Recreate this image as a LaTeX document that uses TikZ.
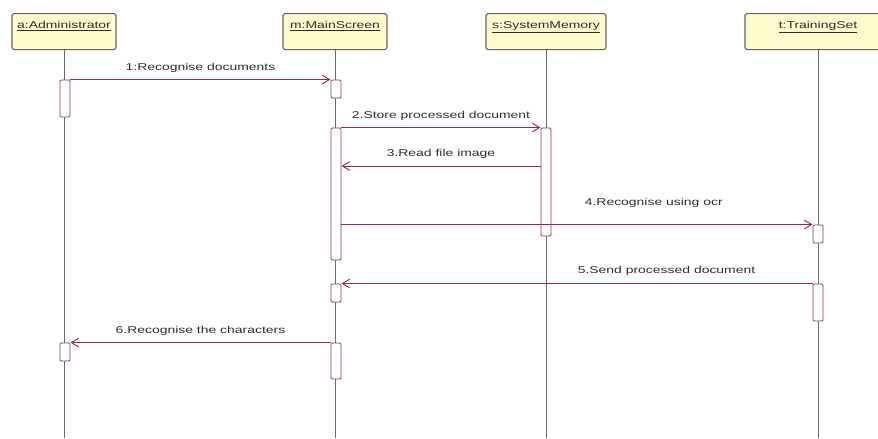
\documentclass[tikz,border=0pt]{standalone}
\usepackage{fontspec}
\usepackage{tikz}
\usetikzlibrary{arrows.meta, positioning, fit}
\newfontfamily\umlfont[FakeStretch=1.4]{Liberation Sans}
\definecolor{umlwine}{RGB}{150,40,95}
\definecolor{umlbar}{RGB}{130,60,95}
\definecolor{umlhead}{RGB}{255,251,205}
\definecolor{umledge}{RGB}{115,95,95}
\definecolor{umlgrey}{RGB}{105,105,105}
\definecolor{umltext}{RGB}{45,45,45}
\tikzset{
  headbox/.style={rectangle, draw=umledge, fill=umlhead, anchor=north,
    inner xsep=2pt, inner ysep=0.15cm, text height=0.3cm, text depth=0.48cm,
    font=\umlfont\fontsize{8.5}{10}\selectfont, text=umltext,
    rounded corners=1.5pt, line width=0.9pt},
  actbar/.style={rectangle, draw=umlbar, fill=white, inner sep=0pt,
    minimum width=0.3cm, rounded corners=1pt, line width=0.8pt},
  lifeline/.style={draw=umlgrey, line width=0.8pt},
  msg/.style={-{Straight Barb[length=2.2mm, width=2.6mm]}, color=umlwine, line width=0.8pt},
  msglbl/.style={font=\umlfont\fontsize{8.5}{10}\selectfont, text=umltext}
}

\begin{document}
\begin{tikzpicture}[x=0.03cm, y=-0.03cm]
  \clip (0,0) rectangle (878,438);

  % Object heads
  \node[headbox, minimum width=3.12cm] (adm) at (64,13) {\underline{a:Administrator}};
  \node[headbox, minimum width=3.12cm] (ms) at (335,13) {\underline{m:MainScreen}};
  \node[headbox, minimum width=3.6cm] (sm) at (546,13) {\underline{s:SystemMemory}};
  \node[headbox, minimum width=4.38cm] (ts) at (818,13) {\underline{t:TrainingSet}};

  % Lifelines
  \draw[lifeline] (adm.south) -- (adm.south |- 0,438);
  \draw[lifeline] (ms.south) -- (ms.south |- 0,438);
  \draw[lifeline] (sm.south) -- (sm.south |- 0,438);
  \draw[lifeline] (ts.south) -- (ts.south |- 0,438);

  % Activation bars
  \node[actbar, fit={(65,80) (65,117)}] (a1) {};
  \node[actbar, fit={(65,343) (65,361)}] (a2) {};
  \node[actbar, fit={(336,80) (336,98)}] (m1) {};
  \node[actbar, fit={(336,128) (336,260)}] (m2) {};
  \node[actbar, fit={(336,284) (336,302)}] (m3) {};
  \node[actbar, fit={(336,343) (336,379)}] (m4) {};
  \node[actbar, fit={(546,128) (546,236)}] (s1) {};
  \node[actbar, fit={(818,225) (818,243)}] (t1) {};
  \node[actbar, fit={(818,284) (818,321)}] (t2) {};

  % Messages
  \draw[msg] (a1.north east) -- (m1.north west)
    node[msglbl, midway, above=2pt] {1:Recognise documents};
  \draw[msg] (m2.north east) -- (s1.north west)
    node[msglbl, midway, above=2pt] {2.Store processed document};
  \draw[msg] (s1.west |- 0,166) -- (m2.east |- 0,166)
    node[msglbl, midway, above=3pt] {3.Read file image};
  \draw[msg] (m2.east |- t1.north) -- (t1.north west)
    node[msglbl, pos=0.663, above=11pt] {4.Recognise using ocr};
  \draw[msg] (t2.north west) -- (m3.north east)
    node[msglbl, pos=0.31, above=3pt] {5.Send processed document};
  \draw[msg] (m4.north west) -- (a2.north east)
    node[msglbl, midway, above=2pt] {6.Recognise the characters};
\end{tikzpicture}
\end{document}
